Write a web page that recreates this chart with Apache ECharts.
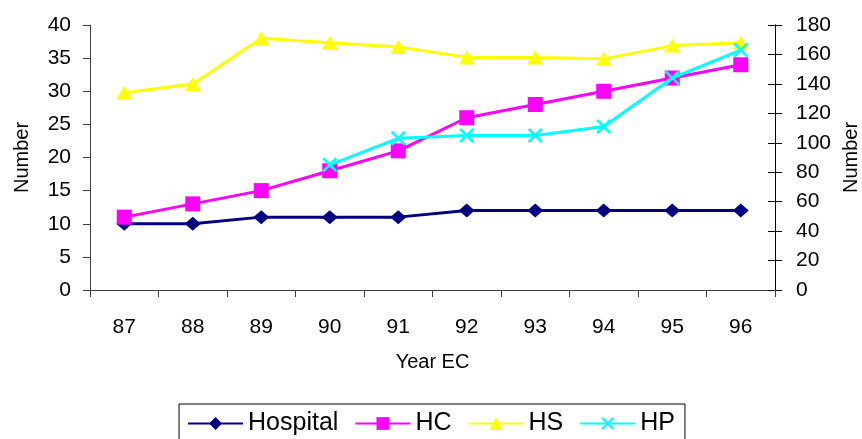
<!DOCTYPE html>
<html>
<head>
<meta charset="utf-8">
<script src="https://cdn.jsdelivr.net/npm/echarts@6/dist/echarts.min.js"></script>
<style>
  html, body { margin: 0; padding: 0; background: #fff; }
  #chart { width: 862px; height: 439px; }
</style>
</head>
<body>
<div id="chart"></div>
<script>
// Health facilities by Ethiopian calendar year
const years = ['87', '88', '89', '90', '91', '92', '93', '94', '95', '96'];
const hospital = [10, 10, 11, 11, 11, 12, 12, 12, 12, 12];
const hc = [11, 13, 15, 18, 21, 26, 28, 30, 32, 34];
// Right-hand scale
const hs = [134, 140, 171, 168, 165, 158, 158, 157, 166, 168];
const hp = [null, null, null, 85, 103, 105, 105, 111, 144, 163];

const leftTicks = { min: 0, max: 40, interval: 5 };
const rightTicks = { min: 0, max: 180, interval: 20 };

const FONT = 'Liberation Sans, Arial, sans-serif';
const crossMark = 'path://M0,1.2L1.2,0L5,3.8L8.8,0L10,1.2L6.2,5L10,8.8L8.8,10L5,6.2L1.2,10L0,8.8L3.8,5Z';

const chart = echarts.init(document.getElementById('chart'), null, { renderer: 'canvas' });

function valueAxis(pos, ticks, color, opts) {
  return Object.assign({
    type: 'value',
    position: pos,
    min: ticks.min,
    max: ticks.max,
    interval: ticks.interval,
    splitLine: { show: false },
    axisLine: { show: true, lineStyle: { color: color, width: 1 } },
    axisTick: { show: true, length: 7, lineStyle: { color: color, width: 1 } },
    axisLabel: { color: '#000', fontSize: 21, fontFamily: FONT }
  }, opts);
}

chart.setOption({
  animation: false,
  backgroundColor: '#fff',
  textStyle: { fontFamily: FONT },
  grid: { left: 90, right: 87, top: 25, bottom: 149, containLabel: false, outerBoundsMode: 'none' },
  legend: {
    top: 404,
    left: 'center',
    orient: 'horizontal',
    padding: [7, 10, 12, 8],
    itemGap: 16,
    itemWidth: 55,
    itemHeight: 16,
    borderColor: '#000',
    borderWidth: 1,
    textStyle: { color: '#000', fontSize: 25, fontFamily: FONT },
    data: ['Hospital', 'HC', 'HS', 'HP']
  },
  xAxis: {
    type: 'category',
    data: years,
    boundaryGap: true,
    name: 'Year EC',
    nameLocation: 'middle',
    nameGap: 62,
    nameTextStyle: { color: '#000', fontSize: 20, fontFamily: FONT },
    axisLine: { show: true, lineStyle: { color: '#404040', width: 1 } },
    axisTick: { show: true, length: 7, alignWithLabel: false, lineStyle: { color: '#404040' } },
    axisLabel: { color: '#000', fontSize: 21, fontFamily: FONT, margin: 27 },
    splitLine: { show: false }
  },
  yAxis: [
    valueAxis('left', leftTicks, '#404040', {
      name: 'Number', nameLocation: 'middle', nameGap: 58,
      nameTextStyle: { color: '#000', fontSize: 20, fontFamily: FONT },
      axisLabel: { color: '#000', fontSize: 21, fontFamily: FONT, margin: 19 }
    }),
    valueAxis('right', rightTicks, '#000', {
      name: 'Number', nameLocation: 'middle', nameGap: 57, nameRotate: 90,
      nameTextStyle: { color: '#000', fontSize: 20, fontFamily: FONT },
      axisLabel: { color: '#000', fontSize: 21, fontFamily: FONT, margin: 21 }
    }),
    // inner half of the right-hand cross ticks
    valueAxis('right', rightTicks, '#000', {
      axisLabel: { show: false },
      axisTick: { show: true, inside: true, length: 7, lineStyle: { color: '#000' } }
    })
  ],
  series: [
    {
      name: 'Hospital', type: 'line', yAxisIndex: 0, data: hospital,
      symbol: 'diamond', symbolSize: [16, 14],
      lineStyle: { color: '#000080', width: 3 },
      itemStyle: { color: '#000080' }, z: 2
    },
    {
      name: 'HC', type: 'line', yAxisIndex: 0, data: hc,
      symbol: 'rect', symbolSize: 15,
      lineStyle: { color: '#FF00FF', width: 3 },
      itemStyle: { color: '#FF00FF' }, z: 3
    },
    {
      name: 'HS', type: 'line', yAxisIndex: 1, data: hs,
      symbol: 'triangle', symbolSize: [16, 14],
      lineStyle: { color: '#FFFF00', width: 3 },
      itemStyle: { color: '#FFFF00' }, z: 4
    },
    {
      name: 'HP', type: 'line', yAxisIndex: 1, data: hp,
      symbol: crossMark, symbolSize: 15,
      lineStyle: { color: '#00FFFF', width: 3 },
      itemStyle: { color: '#00FFFF' }, z: 5
    }
  ]
});
</script>
</body>
</html>
